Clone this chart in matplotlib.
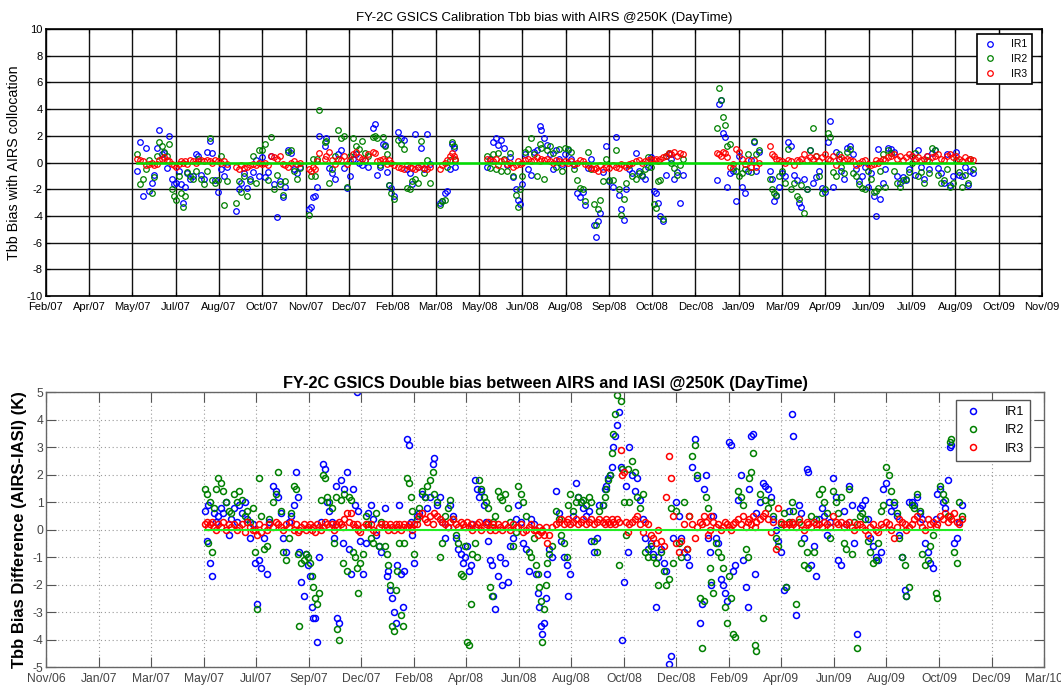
import numpy as np
import matplotlib
matplotlib.use('Agg')
import matplotlib.pyplot as plt

plt.rcParams['font.family'] = ['Liberation Sans', 'DejaVu Sans']
plt.rcParams['axes.unicode_minus'] = False

# x values are days counted from 2007-01-01

# ---- upper panel: FY-2C minus AIRS ----
top_days = [139, 142, 145, 148, 151, 154, 157, 160, 162, 165,
            167, 170, 172, 175, 177, 179, 182, 184, 186, 188,
            190, 193, 196, 199, 202, 205, 208, 211, 214, 216,
            219, 222, 225, 228, 231, 240, 243, 246, 249, 252,
            255, 258, 261, 264, 267, 270, 273, 276, 279, 282,
            285, 288, 291, 294, 297, 300, 303, 306, 315, 317,
            319, 321, 323, 325, 331, 333, 336, 339, 342, 345,
            348, 351, 354, 357, 360, 363, 366, 369, 372, 375,
            381, 383, 385, 388, 391, 393, 395, 397, 399, 402,
            406, 409, 412, 415, 418, 421, 424, 427, 430, 433,
            436, 439, 449, 451, 454, 456, 459, 461, 463, 465,
            497, 500, 503, 506, 509, 512, 515, 518, 521, 524,
            527, 529, 531, 533, 536, 539, 542, 545, 548, 551,
            553, 556, 559, 562, 565, 568, 571, 574, 577, 580,
            583, 586, 589, 592, 595, 598, 601, 604, 607, 609,
            611, 613, 616, 619, 622, 626, 629, 632, 634, 637,
            640, 643, 646, 650, 653, 656, 659, 662, 665, 668,
            670, 672, 674, 677, 680, 683, 686, 689, 692, 695,
            698, 733, 735, 737, 739, 741, 743, 746, 749, 752,
            755, 758, 761, 764, 767, 770, 773, 776, 787, 789,
            791, 793, 796, 799, 802, 805, 808, 811, 814, 817,
            819, 822, 825, 828, 831, 834, 837, 840, 843, 846,
            848, 851, 854, 857, 860, 863, 866, 869, 872, 875,
            878, 881, 884, 887, 890, 893, 895, 897, 899, 902,
            905, 908, 911, 914, 917, 920, 923, 926, 929, 932,
            935, 938, 941, 944, 947, 950, 953, 956, 959, 962,
            965, 968, 971, 974, 977, 980, 983, 986, 989, 992,
            995]

top_ir1 = [-0.6, 1.5, -2.5, 1.1, -2.1, -1.5, -0.9, 1.1, 2.4, 0.6,
           0.7, -0.4, 2.0, -1.2, -1.6, -1.5, -0.6, -1.6, -3.0, -1.8,
           -0.8, -1.2, -1.0, 0.6, 0.5, -0.9, -1.2, 0.8, 1.6, 0.7,
           -1.3, -2.2, -0.5, -1.0, -0.3, -3.6, -2.0, -1.5, -0.8, -1.9,
           -1.2, -0.7, 0.2, -1.0, 0.4, -1.1, -0.7, 0.5, -1.6, -4.1,
           -1.4, -2.6, -1.8, 0.9, 0.7, -0.5, -0.8, -0.3, -3.5, -3.3,
           -2.6, -2.5, -1.8, 2.0, 1.2, 1.8, -0.4, -0.8, -1.2, 0.6,
           0.9, -0.4, -1.9, -1.0, 0.3, 0.6, 0.0, -0.2, 0.2, -0.3,
           2.6, 2.9, -0.9, -0.3, 1.4, 1.3, -0.7, -1.7, -1.9, -2.5,
           2.3, 1.8, 1.7, -0.5, -0.8, -1.6, 2.1, -0.3, 1.1, -0.5,
           2.1, -0.1, -3.0, -2.9, -2.3, -2.1, -0.5, 1.4, 1.1, -0.3,
           -0.3, 0.3, 1.5, 1.8, 1.3, 1.7, 1.1, -0.2, 0.4, -1.1,
           -2.0, -2.8, -3.1, -1.6, 0.6, -0.5, -0.9, 0.8, 0.9, 2.7,
           2.4, 1.8, 1.3, 0.6, -0.5, 0.9, 0.3, -0.2, 0.6, 0.9,
           0.3, -0.2, -2.3, -2.6, -2.2, -3.2, -0.4, 0.3, -4.7, -5.6,
           -4.4, -3.8, -0.7, 1.2, -1.4, -1.8, 1.9, -2.4, -3.5, -4.3,
           -2.0, -0.5, -0.8, 0.7, -0.6, -1.0, -1.2, -0.3, 0.4, -2.1,
           -2.3, -3.0, -4.0, -4.4, -0.9, 0.6, 0.3, -1.2, -0.7, -3.0,
           -0.9, -1.3, 4.4, 4.7, 2.2, 1.9, -1.8, -0.8, -0.6, -2.9,
           0.5, -1.8, -2.3, -0.6, 0.2, 1.5, -0.6, 0.8, -0.6, -1.2,
           -2.9, -2.5, -1.8, -0.8, -1.0, 1.5, 1.2, -0.9, -1.3, -3.0,
           -3.3, -1.2, -2.0, 0.9, -1.5, -1.1, -0.6, -1.9, -2.2, 1.5,
           3.1, -1.8, 0.8, 0.3, -0.6, -1.2, 1.1, 1.2, 0.6, -0.5,
           -1.4, -1.0, -0.3, -1.8, -0.8, -2.5, -4.0, 1.0, -2.7, -1.5,
           -0.5, 1.1, 1.0, 0.8, -1.0, -1.5, -1.1, -1.3, -0.5, 0.5,
           -0.9, 0.9, -0.3, -1.2, 0.5, -0.5, 0.7, 0.9, -0.4, -0.8,
           -1.5, 0.6, -1.7, -1.0, 0.8, -0.9, -1.0, -0.3, -1.7, -0.6,
           -0.8]

top_ir2 = [0.6, -1.6, -1.2, -0.5, 0.2, -2.3, -1.1, 0.5, 1.5, 1.2,
           0.8, 0.5, 1.4, -2.0, -2.5, -2.8, -1.0, -2.3, -3.3, -2.5,
           -0.7, -1.0, -1.2, -0.6, 0.3, -1.2, -1.6, -0.6, 1.8, -1.3,
           -1.5, -1.3, 0.5, -3.2, -1.4, -3.0, -1.4, -2.2, -1.0, -2.5,
           -1.4, 0.5, -1.5, 0.9, 0.9, 1.4, -1.3, 1.9, -2.0, -0.9,
           -1.6, -2.4, -1.4, 0.8, 0.9, -0.6, -1.2, -0.4, -3.9, -1.0,
           0.3, -1.0, 0.3, 3.9, 1.5, 1.6, -1.5, -0.5, 0.5, 2.4,
           1.8, 2.0, -1.8, 0.5, 1.8, 1.2, 1.0, 1.6, 0.7, 0.5,
           1.9, 2.0, 1.8, -0.2, 1.9, 1.2, 0.6, -1.7, -2.3, -2.7,
           1.7, 1.4, 1.0, -1.9, -2.0, -1.4, -1.2, -1.5, 1.6, -0.8,
           0.2, -1.5, -3.2, -2.9, -2.8, -0.3, 0.2, 1.5, 1.2, 0.2,
           0.5, -0.4, 0.6, -0.5, 0.7, -0.6, 0.3, -0.6, 0.7, -1.0,
           -2.4, -3.3, -2.0, -1.0, 0.8, 1.0, 1.8, 0.6, -1.0, 1.4,
           1.1, -1.2, 0.9, 1.2, 0.7, -0.3, 1.0, -0.6, 1.1, 1.0,
           0.8, -0.5, -1.3, -1.9, -2.0, -2.9, 0.8, -0.5, -3.1, -4.7,
           -3.5, -2.8, -1.4, 0.3, -1.3, -1.3, 0.9, -2.0, -3.9, -2.7,
           -1.5, -0.2, -1.0, -1.2, -0.8, -0.9, -0.5, 0.4, -0.3, -3.1,
           -3.4, -1.4, -1.3, -4.2, 0.5, 0.7, 0.0, -0.4, -0.9, -0.2,
           0.3, 2.6, 5.6, 4.7, 3.4, 2.8, 1.2, 1.4, -0.4, -0.6,
           -1.0, -0.8, -0.5, 0.6, -0.7, 1.6, 0.6, 0.9, -1.2, -2.0,
           -2.3, -2.4, -1.0, -0.6, -1.5, 1.0, -2.0, -1.5, -2.5, -2.7,
           -1.7, -3.8, -2.0, 0.9, 2.6, 0.5, -1.0, -2.3, -2.0, 2.2,
           1.9, -0.7, -1.0, 0.6, -0.3, -0.8, 0.8, 1.0, -0.8, -1.0,
           -1.6, -1.9, -2.0, -0.6, -1.2, -2.2, -2.1, -1.9, -0.6, 0.6,
           -1.8, 0.9, 0.7, -0.6, -1.5, -1.8, -1.3, -1.2, -0.7, 0.0,
           0.7, -1.0, -0.7, -1.5, 0.2, -0.8, 1.1, 0.9, -0.9, -1.5,
           -1.3, -0.5, -1.8, -1.5, 0.2, -0.7, -1.8, -0.9, -1.5, 0.3,
           -0.5]

top_ir3 = [0.3, 0.2, 0.1, -0.2, -0.1, 0.0, -0.2, -0.1, 0.2, 0.3,
           0.4, 0.2, 0.1, -0.1, -0.2, -0.3, -0.1, 0.1, 0.0, 0.1,
           -0.1, 0.2, 0.1, 0.0, 0.1, 0.2, 0.1, 0.2, 0.1, 0.0,
           0.2, 0.1, 0.0, 0.1, -0.1, -0.3, -0.5, -0.2, -0.4, -0.3,
           -0.2, -0.1, -0.2, 0.0, -0.1, 0.0, -0.2, 0.5, 0.4, 0.3,
           0.5, -0.1, -0.2, -0.3, 0.0, 0.1, -0.1, 0.0, -0.5, -0.6,
           -0.3, -0.5, 0.1, 0.7, 0.3, 0.5, 0.8, 0.2, -0.1, 0.3,
           0.2, 0.5, -0.1, 0.2, 0.6, 0.8, 0.4, 0.3, 0.2, 0.6,
           0.8, 0.7, 0.1, 0.2, 0.3, 0.1, -0.1, 0.2, 0.0, -0.2,
           -0.3, -0.4, -0.5, -0.2, -0.3, -0.4, -0.5, -0.3, -0.2, -0.4,
           -0.5, -0.3, -0.5, -0.2, 0.0, 0.2, 0.5, 0.7, 0.5, 0.3,
           0.3, 0.2, 0.1, 0.3, -0.2, 0.1, 0.2, -0.1, 0.0, -0.3,
           -0.2, 0.1, -0.1, 0.0, 0.2, 0.3, 0.1, 0.2, 0.4, 0.1,
           0.3, 0.2, 0.3, 0.1, 0.0, 0.2, 0.1, 0.0, 0.1, 0.0,
           0.1, -0.1, 0.0, 0.2, 0.1, -0.1, -0.2, -0.4, -0.5, -0.4,
           -0.6, -0.2, -0.5, -0.3, -0.4, -0.2, -0.3, -0.4, -0.1, -0.2,
           -0.3, -0.1, 0.0, 0.1, 0.2, 0.0, 0.1, 0.2, 0.3, 0.2,
           0.3, 0.1, 0.3, 0.4, 0.5, 0.7, 0.6, 0.8, 0.5, 0.7,
           0.6, 0.7, 0.6, 0.5, 0.8, 0.7, 0.4, -0.3, -0.1, 1.0,
           0.8, 0.3, -0.1, 0.2, -0.3, 0.2, -0.3, 0.0, 1.2, 0.6,
           0.5, 0.3, 0.2, 0.1, 0.0, 0.2, 0.1, -0.2, 0.2, 0.1,
           0.3, 0.6, 0.2, 0.4, 0.3, 0.5, 0.1, 0.4, 0.6, 0.3,
           0.2, 0.5, -0.2, 0.3, 0.4, 0.2, 0.3, 0.2, 0.1, -0.2,
           0.0, 0.1, 0.2, -0.1, -0.2, -0.1, 0.2, 0.0, 0.1, 0.3,
           0.2, 0.4, 0.5, 0.6, 0.3, 0.5, 0.2, 0.4, 0.6, 0.5,
           0.3, 0.4, 0.2, 0.3, 0.5, 0.1, 0.4, 0.5, 0.6, 0.3,
           0.2, 0.5, 0.6, 0.4, 0.5, 0.3, 0.1, 0.4, 0.2, 0.3,
           0.2]

top_xlabels = ['Feb/07', 'Apr/07', 'May/07', 'Jul/07', 'Aug/07', 'Oct/07', 'Nov/07', 'Dec/07',
               'Feb/08', 'Mar/08', 'May/08', 'Jun/08', 'Aug/08', 'Sep/08', 'Oct/08', 'Dec/08',
               'Jan/09', 'Mar/09', 'Apr/09', 'Jun/09', 'Jul/09', 'Aug/09', 'Oct/09', 'Nov/09']

# ---- lower panel: double difference AIRS - IASI ----
bot_days = [139, 141, 143, 145, 147, 149, 152, 154, 157, 160,
            163, 166, 169, 172, 175, 178, 181, 184, 187, 190,
            193, 196, 198, 200, 203, 206, 209, 212, 216, 219,
            222, 225, 228, 231, 234, 237, 240, 242, 244, 246,
            248, 251, 254, 256, 258, 260, 262, 264, 266, 268,
            270, 273, 275, 277, 280, 283, 285, 288, 289, 291,
            293, 295, 297, 300, 302, 304, 307, 309, 311, 313,
            315, 318, 321, 324, 327, 330, 333, 336, 339, 343,
            345, 347, 349, 351, 353, 355, 357, 359, 361, 363,
            365, 368, 370, 372, 374, 376, 379, 382, 385, 388,
            391, 394, 397, 399, 402, 405, 408, 411, 414, 417,
            420, 423, 426, 429, 432, 434, 436, 438, 440, 442,
            445, 447, 450, 452, 455, 457, 460, 462, 464, 466,
            468, 471, 473, 476, 479, 482, 485, 488, 491, 494,
            497, 500, 503, 506, 509, 512, 514, 516, 518, 520,
            521, 523, 525, 527, 529, 532, 537, 540, 543, 546,
            549, 551, 553, 556, 559, 562, 565, 568, 571, 574,
            577, 580, 583, 586, 590, 592, 594, 596, 598, 600,
            602, 604, 606, 608, 610, 612, 614, 616, 618, 620,
            623, 626, 629, 632, 635, 638, 641, 644, 647, 650,
            653, 656, 659, 662, 665, 667, 670, 673, 676, 679,
            682, 685, 688, 691, 694, 697, 700, 702, 705, 707,
            709, 711, 713, 715, 718, 721, 724, 726, 728, 731,
            733, 735, 737, 740, 743, 746, 749, 752, 754, 756,
            758, 760, 762, 764, 768, 771, 774, 777, 780, 783,
            786, 789, 792, 795, 798, 801, 804, 806, 809, 812,
            815, 818, 821, 823, 826, 829, 832, 835, 838, 841,
            844, 847, 851, 854, 857, 860, 863, 866, 869, 872,
            875, 878, 881, 884, 887, 890, 893, 896, 899, 902,
            905, 908, 911, 914, 917, 920, 923, 926, 929, 932,
            934, 937, 940, 943, 946, 949, 952, 955, 958, 961,
            964, 967, 969, 972, 975, 978, 981, 983, 985, 988,
            991, 994, 997]

bot_ir1 = [0.7, -0.4, 0.9, -1.2, -1.7, 0.6, 0.3, 0.5, 0.8, 0.6,
           1.0, -0.2, 0.4, 0.8, 0.3, 0.9, 0.6, 1.0, 0.4, -0.3,
           0.2, -1.2, -2.7, -1.1, -1.4, -0.3, -1.6, 0.3, 1.6, 1.4,
           1.2, 0.6, -0.3, -0.8, 0.3, 0.5, 0.9, 2.1, 1.2, -0.8,
           -1.9, -2.4, -0.9, -1.3, -1.7, -2.8, -3.2, -3.2, -4.1, -1.0,
           0.3, 2.4, 2.2, 1.0, 0.7, 0.3, -0.3, 1.6, -3.2, -3.4,
           1.8, -0.5, 1.5, 2.1, -0.7, -1.6, 1.5, 0.9, 5.0, 0.7,
           -0.4, -1.6, -0.5, 0.6, 0.9, 0.4, -0.2, -0.6, -0.8, 0.8,
           -1.7, -1.5, -2.2, -2.5, -3.0, -3.4, -1.3, 0.9, -1.6, -2.8,
           -1.5, 3.3, 3.1, 0.3, -0.2, -1.2, 0.5, 0.6, 1.3, 1.2,
           0.8, 1.2, 2.4, 2.6, 0.9, 1.2, 0.3, -0.3, 0.1, 0.9,
           0.5, -0.3, -0.7, -0.9, -1.2, -1.0, -0.6, -1.5, -1.3, 0.2,
           1.8, 1.5, 1.2, 1.4, 0.9, 0.3, -0.4, -1.1, -1.3, -2.4,
           -2.9, -1.7, -1.0, -2.0, -1.2, -1.9, -0.6, -0.3, 0.4, 0.9,
           0.3, -0.5, -0.7, -1.5, 0.4, 0.2, -1.6, -2.3, -2.8, -3.5,
           -3.8, -3.4, -2.5, -1.6, -0.7, -1.0, 1.4, 0.6, -0.4, -1.0,
           -1.3, -2.4, -1.6, 0.5, 1.7, 1.2, 1.0, 0.8, 0.5, 0.7,
           -0.4, -0.8, -0.3, 0.9, 0.9, 1.5, 1.6, 1.9, 2.0, 2.3,
           3.0, 3.4, 3.8, 4.3, 2.3, -4.0, -1.9, 1.6, -0.8, 3.0,
           2.0, 1.4, 1.9, 1.1, 0.4, -0.3, -0.7, -0.5, -0.9, -2.8,
           -1.0, -0.7, -1.2, -1.5, -4.9, -4.6, -0.3, 1.0, 0.5, -0.3,
           -0.8, -1.0, -1.3, 2.3, 3.3, 1.9, -3.4, -2.7, 1.5, 2.0,
           -0.3, -0.8, -2.0, 0.5, -0.3, -0.5, -1.8, -2.0, -2.3, -2.6,
           3.2, 3.1, -1.5, -1.3, 1.1, 2.0, -1.1, -2.1, -2.8, 1.5,
           3.4, 3.5, -1.6, 0.6, 1.0, 1.7, 1.6, 1.5, 1.2, 0.4,
           0.0, -0.4, -0.8, -2.2, -2.1, 0.7, 4.2, 3.4, -3.1, 0.9,
           0.6, -0.3, 2.2, 2.1, -1.3, -0.6, -1.7, 0.4, 0.8, 0.5,
           -0.2, 0.3, 1.9, 1.2, -1.1, -1.3, 0.7, 0.2, 1.6, 0.9,
           -0.5, -3.8, 0.8, 0.9, 1.1, 0.4, -0.3, -0.6, -1.0, -1.1,
           -0.8, 1.5, 1.7, 1.0, 0.7, 0.9, 0.5, -0.2, -1.0, -2.2,
           -2.4, 1.0, 1.0, 0.9, 1.2, 0.6, 0.4, -0.5, -0.8, -1.2,
           -1.4, 0.4, 1.3, 1.5, 1.0, 0.8, 1.8, 3.0, 3.1, -0.5,
           -0.3, 0.3, 0.9]

bot_ir2 = [1.5, 1.3, -0.5, 1.0, -0.8, 0.8, 1.5, 1.9, 1.7, 1.4,
           1.0, 0.7, 0.6, 1.3, 1.0, 1.4, 1.1, 0.5, 0.7, 0.3,
           0.8, -0.8, -2.9, 1.9, 0.5, -0.7, -0.6, 0.4, 1.0, 1.3,
           2.1, 0.7, -0.8, -1.1, -0.3, 0.6, 1.6, 1.5, -0.9, -3.5,
           -1.2, -1.1, -0.9, -1.0, -1.2, -1.7, -2.1, -2.5, -2.7, -2.3,
           1.1, 2.0, 1.9, 1.2, 1.0, 0.8, -0.5, 1.2, -3.6, -4.0,
           1.1, -1.2, 1.3, -1.5, 1.2, 1.1, -0.8, -1.0, -1.4, -2.3,
           -1.2, -0.9, 0.5, 0.2, -0.3, -0.5, 0.6, -0.6, 0.3, -0.6,
           -0.9, -1.3, -2.0, -3.5, -3.7, -2.2, -1.5, -0.5, -3.1, -3.5,
           -0.5, 1.9, 1.7, 1.2, 0.7, -0.9, 0.4, 0.8, 1.4, 1.2,
           1.6, 1.8, 2.1, 1.3, 1.0, -1.0, -0.5, 0.5, 0.8, 1.1,
           0.4, -0.2, -0.5, -1.6, -1.7, -0.6, -4.1, -4.2, -2.7, -0.9,
           -0.5, -1.0, 1.8, 1.5, 1.2, 1.0, 0.8, -2.1, -2.4, 0.3,
           0.5, 1.4, 1.2, 1.1, 1.3, 0.8, 0.3, -0.6, -0.1, 1.6,
           1.3, 1.0, 0.5, -0.8, -1.0, -0.3, -1.3, -1.6, -2.1, -2.6,
           -4.1, -2.9, -2.0, -1.2, -0.9, -0.6, 0.7, 0.4, -0.2, -0.5,
           -1.0, 0.9, 1.3, 0.7, 1.0, 1.2, 1.0, 1.1, 0.9, 1.2,
           1.0, -0.4, -0.8, 0.7, 0.9, 1.2, 1.5, 1.8, 2.0, 2.8,
           3.5, 4.2, 4.9, -1.3, 4.7, 2.2, 1.0, -0.2, 2.2, 1.0,
           2.5, 2.1, 1.2, 0.8, 1.3, -0.8, -1.0, -0.6, -1.0, -1.2,
           -2.0, -0.8, -1.5, -2.0, -1.8, 0.8, -1.2, 0.7, -0.5, -1.0,
           1.0, -0.7, 0.5, 2.7, 3.1, 2.0, -2.5, -4.3, -2.6, 1.2,
           0.8, -1.4, -1.9, -2.3, -0.5, -0.8, -1.0, -1.4, -2.8, -3.4,
           -1.7, -2.5, -3.8, -3.9, 1.4, 1.2, 0.9, -0.7, -1.0, 1.9,
           2.1, 2.8, -4.2, -4.4, 1.3, -3.2, 1.1, 0.8, 1.0, 0.5,
           -0.3, -0.6, 0.2, 0.6, -2.1, 0.3, 1.0, 0.7, -2.7, 0.3,
           -0.5, -1.3, -0.8, -1.4, 0.5, -0.8, 0.4, 1.3, 1.5, 1.0,
           0.6, -0.3, 1.4, 1.0, 0.6, 1.2, -0.5, -0.7, 1.5, -0.9,
           0.3, -4.3, 0.5, 0.6, 0.4, -0.4, -0.8, -1.2, -1.1, -0.5,
           0.7, 0.9, 2.3, 2.0, 1.4, 1.0, 0.6, -0.3, -1.0, -1.3,
           -2.4, -2.1, 0.9, 0.8, 1.3, 0.7, -0.9, -1.3, -1.1, -0.6,
           -0.2, -2.3, -2.5, 1.6, 1.3, 1.1, 0.5, 3.2, 3.3, -0.8,
           -1.2, 1.0, 0.5]

bot_ir3 = [0.2, 0.3, 0.1, 0.2, 0.3, 0.1, 0.0, 0.2, 0.1, 0.3,
           0.0, 0.2, 0.1, 0.2, 0.0, 0.1, 0.2, -0.1, 0.3, 0.1,
           0.0, 0.0, -0.2, 0.2, -0.1, 0.1, 0.0, 0.2, 0.1, 0.3,
           0.2, 0.1, 0.0, 0.2, 0.1, 0.3, 0.0, 0.2, -0.1, 0.0,
           0.1, 0.2, 0.0, 0.1, 0.2, 0.0, 0.1, -0.1, 0.2, 0.1,
           0.0, 0.1, 0.3, 0.2, 0.1, 0.2, 0.0, 0.2, 0.1, 0.3,
           0.2, 0.1, 0.4, 0.6, 0.3, 0.6, 0.2, 0.1, 0.2, 0.0,
           -0.1, 0.1, 0.2, 0.1, 0.2, 0.0, -0.1, 0.1, 0.2, 0.2,
           0.1, 0.0, 0.2, 0.1, 0.0, 0.2, 0.1, 0.2, 0.0, 0.1,
           0.2, 0.1, 0.2, 0.1, 0.0, 0.2, 0.2, 0.5, 0.6, 0.4,
           0.3, 0.5, 0.2, 0.6, 0.5, 0.4, 0.3, 0.2, 0.1, 0.3,
           0.4, 0.2, 0.1, 0.3, 0.2, 0.1, 0.3, 0.1, 0.2, 0.0,
           0.1, 0.2, 0.3, 0.0, 0.1, 0.2, 0.3, 0.0, 0.1, 0.2,
           0.0, 0.2, 0.1, 0.0, 0.2, 0.1, 0.0, 0.2, 0.1, 0.1,
           0.2, -0.1, 0.0, 0.1, 0.2, 0.0, 0.0, -0.2, 0.1, -0.1,
           0.0, -0.2, 0.1, -0.5, -0.2, 0.1, 0.2, 0.3, 0.4, 0.2,
           0.3, 0.4, 0.2, 0.3, 0.4, 0.2, 0.3, 0.4, 0.2, 0.3,
           0.4, 0.2, 0.3, 0.4, 0.3, 0.2, 0.4, 0.3, 0.2, 0.4,
           0.3, 0.2, 0.4, 0.3, 2.9, 2.0, 2.1, 0.3, -0.1, 0.2,
           0.3, 0.4, 0.5, 0.2, -0.1, 0.3, 0.2, -0.2, -0.3, -0.5,
           0.0, -0.4, -0.6, 1.2, 2.7, 1.9, 0.5, -0.5, -0.8, -0.4,
           0.2, -0.7, 0.5, 0.2, -0.3, 0.1, 0.3, 0.2, 0.5, 0.3,
           -0.2, 0.0, 0.5, 0.3, 0.1, 0.2, 0.0, 0.1, 0.3, 0.2,
           0.1, 0.0, 0.2, 0.3, 0.4, 0.2, 0.5, 0.1, 0.3, 0.4,
           0.2, 0.5, 0.1, 0.3, 0.4, 0.5, 0.6, 0.4, -0.1, 0.3,
           -0.7, 0.8, 0.3, 0.2, 0.1, 0.2, 0.3, 0.2, 0.1, 0.4,
           0.2, 0.0, 0.3, 0.2, 0.1, 0.3, 0.2, 0.2, 0.1, 0.3,
           0.2, 0.1, 0.5, 0.3, 0.2, 0.3, 0.1, 0.2, 0.3, 0.1,
           0.0, 0.2, 0.2, 0.1, 0.0, -0.2, 0.1, 0.2, 0.0, -0.1,
           0.2, 0.1, 0.3, 0.2, 0.0, -0.3, 0.1, 0.4, 0.3, 0.2,
           0.0, 0.1, 0.2, 0.4, 0.5, 0.3, 0.1, 0.0, 0.4, 0.2,
           0.3, 0.1, 0.2, 0.5, 0.4, 0.6, 0.3, 0.5, 0.4, 0.6,
           0.3, 0.2, 0.4]

bot_xlabels = ['Nov/06', 'Jan/07', 'Mar/07', 'May/07', 'Jul/07', 'Sep/07', 'Dec/07',
               'Feb/08', 'Apr/08', 'Jun/08', 'Aug/08', 'Oct/08', 'Dec/08', 'Feb/09',
               'Apr/09', 'Jun/09', 'Aug/09', 'Oct/09', 'Dec/09', 'Mar/10']

channels = ['IR1', 'IR2', 'IR3']
colors = ['#0000ff', '#008000', '#ff0000']

for a in (top_ir1, top_ir2, top_ir3):
    assert len(a) == len(top_days), (len(a), len(top_days))
for a in (bot_ir1, bot_ir2, bot_ir3):
    assert len(a) == len(bot_days), (len(a), len(bot_days))

fig = plt.figure(figsize=(10.61, 6.87), dpi=100)

# upper panel
ax1 = fig.add_axes([0.0431, 0.5691, 0.9390, 0.3887])
for vals, c, lab in zip((top_ir1, top_ir2, top_ir3), colors, channels):
    ax1.plot(top_days, vals, 'o', mfc='none', mec=c, ms=4, mew=0.9, label=lab)
ax1.plot([top_days[0], top_days[-1]], [0, 0], color='#00e000', lw=1.8)

ax1.set_xlim(45.7, 1065.2)
ax1.set_ylim(-10, 10)
ax1.set_xticks(np.linspace(45.7, 1065.2, len(top_xlabels)))
ax1.set_xticklabels(top_xlabels, fontsize=8)
ax1.set_yticks(np.arange(-10, 11, 2))
ax1.tick_params(axis='y', labelsize=8, pad=2)
ax1.tick_params(axis='x', pad=4)
ax1.tick_params(direction='in', top=True, right=True, length=3)
ax1.grid(True, color='#111111', lw=1.0, ls='-')
for s in ax1.spines.values():
    s.set_linewidth(1.2)
ax1.set_title('FY-2C GSICS Calibration Tbb bias with AIRS @250K (DayTime)', fontsize=9.5, pad=6)
ax1.set_ylabel('Tbb Bias with AIRS collocation', fontsize=10.3)
ax1.yaxis.set_label_coords(-0.0248, 0.5)
leg1 = ax1.legend(loc='upper right', bbox_to_anchor=(0.99, 0.981), borderaxespad=0,
                  fontsize=7.5, fancybox=False, framealpha=1, edgecolor='black',
                  handletextpad=1.2, labelspacing=0.45, borderpad=0.5, handlelength=1.5)
leg1.get_frame().set_linewidth(1.2)

# lower panel
ax2 = fig.add_axes([0.0435, 0.0291, 0.9405, 0.3996])
for vals, c, lab in zip((bot_ir1, bot_ir2, bot_ir3), colors, channels):
    ax2.plot(bot_days, vals, 'o', mfc='none', mec=c, ms=4.3, mew=1.1, label=lab)
ax2.plot([bot_days[0], bot_days[-1]], [0, 0], color='#22ee22', lw=1.5)

ax2.set_xlim(-41, 1090)
ax2.set_ylim(-5, 5)
ax2.set_xticks(np.linspace(-41, 1090, len(bot_xlabels)))
ax2.set_xticklabels(bot_xlabels, fontsize=8.7, color='#444444')
ax2.set_yticks(np.arange(-5, 6, 1))
ax2.tick_params(axis='y', labelsize=8.7, labelcolor='#444444', pad=2)
ax2.tick_params(axis='x', pad=4)
ax2.tick_params(direction='in', top=True, right=True, length=7, color='#555555')
ax2.grid(True, color='#999999', lw=0.8, ls=(0, (1, 2.5)))
for s in ax2.spines.values():
    s.set_color('#666666')
    s.set_linewidth(1.0)
ax2.set_title('FY-2C GSICS Double bias between AIRS and IASI @250K (DayTime)',
              fontsize=11.8, fontweight='bold', pad=3)
ax2.set_ylabel('Tbb Bias Difference (AIRS-IASI) (K)', fontsize=12, fontweight='bold')
ax2.yaxis.set_label_coords(-0.0192, 0.5)
leg2 = ax2.legend(loc='upper right', bbox_to_anchor=(0.986, 0.973), borderaxespad=0,
                  fontsize=9, fancybox=False, framealpha=1, edgecolor='#555555',
                  handletextpad=1.6, labelspacing=0.5, borderpad=0.5, handlelength=1.8)
leg2.get_frame().set_linewidth(1.0)

plt.savefig('out.png', dpi=100)
